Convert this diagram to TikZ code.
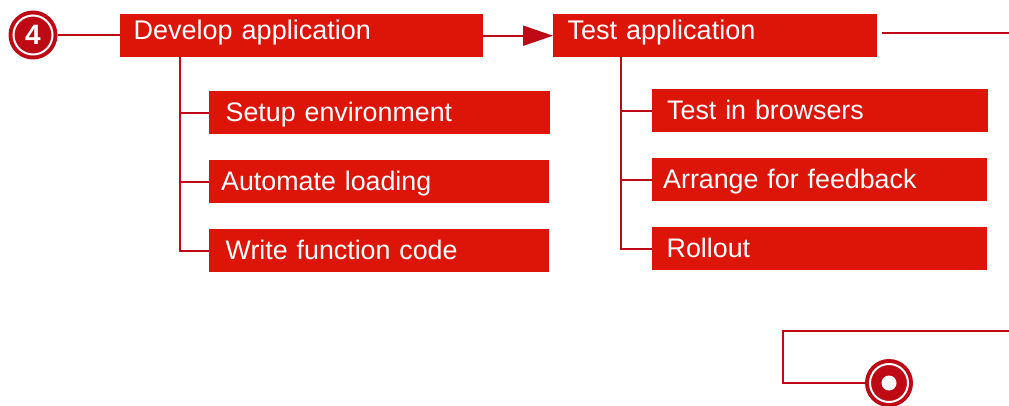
\documentclass[tikz,border=0pt]{standalone}
\usepackage{fontspec}
\setmainfont{Liberation Sans}
\usetikzlibrary{arrows.meta}
\definecolor{boxred}{HTML}{DD1508}
\definecolor{linered}{HTML}{BE0A14}
\tikzset{
  ln/.style={draw=linered, line width=2pt},
  mainbox/.style={rectangle, fill=boxred, text=white, inner sep=0pt, anchor=north west,
    text height=25.5pt, text depth=17.5pt, align=left, font=\fontsize{27}{27}\selectfont},
  subbox/.style={rectangle, fill=boxred, text=white, inner sep=0pt, anchor=north west,
    text height=30pt, text depth=13pt, align=left, font=\fontsize{26.8}{26.8}\selectfont},
  numcircle/.style={circle, fill=linered, minimum size=49pt, inner sep=0pt, text=white,
    font=\fontsize{28}{28}\selectfont\bfseries},
}
\begin{document}
\begin{tikzpicture}[x=1pt, y=-1pt]
\useasboundingbox (0,0) rectangle (1009,406);

% start circle
\node[numcircle] (c4) at (33,35) {4};
\draw[white, line width=2pt] (c4.center) circle (19.5);

% main boxes
\node[mainbox, text width=363pt] (dev) at (120,14) {\hspace*{13.5pt}Develop application};
\node[mainbox, text width=324pt] (test) at (553,14) {\hspace*{14.5pt}Test application};

% sub boxes left
\node[subbox, text width=341pt] (s1) at (209,91) {\hspace*{16.5pt}Setup environment};
\node[subbox, text width=340pt] (s2) at (209,160) {\hspace*{12pt}Automate loading};
\node[subbox, text width=340pt] (s3) at (209,229) {\hspace*{16.5pt}Write function code};

% sub boxes right
\node[subbox, text width=336pt] (t1) at (652,89) {\hspace*{15pt}Test in browsers};
\node[subbox, text width=335pt] (t2) at (652,158) {\hspace*{11pt}Arrange for feedback};
\node[subbox, text width=335pt] (t3) at (652,227) {\hspace*{14.5pt}Rollout};

% end circle
\node[circle, fill=linered, minimum size=48pt, inner sep=0pt] (endc) at (889,383) {};
\draw[white, line width=2pt] (endc.center) circle (19);
\fill[white] (endc.center) circle (7.5);

% connectors
\draw[ln] (c4.east) -- (c4.east -| dev.west);
\draw[ln, -{Triangle[length=30pt, width=20pt]}] (dev.east) -- (test.west);

\coordinate (dtop) at (180,57);
\draw[ln] (dtop) |- (s3.west);
\draw[ln] (s1.west -| dtop) -- (s1.west);
\draw[ln] (s2.west -| dtop) -- (s2.west);

\coordinate (ttop) at (621,57);
\draw[ln] (ttop) |- (t3.west);
\draw[ln] (t1.west -| ttop) -- (t1.west);
\draw[ln] (t2.west -| ttop) -- (t2.west);

\coordinate (tr1) at (882,33);
\coordinate (tr2) at (1009,33);
\draw[ln] (tr1) -- (tr2);

\coordinate (br1) at (1009,331);
\coordinate (br2) at (783,331);
\draw[ln] (br1) -- (br2) |- (endc.west);
\end{tikzpicture}
\end{document}
